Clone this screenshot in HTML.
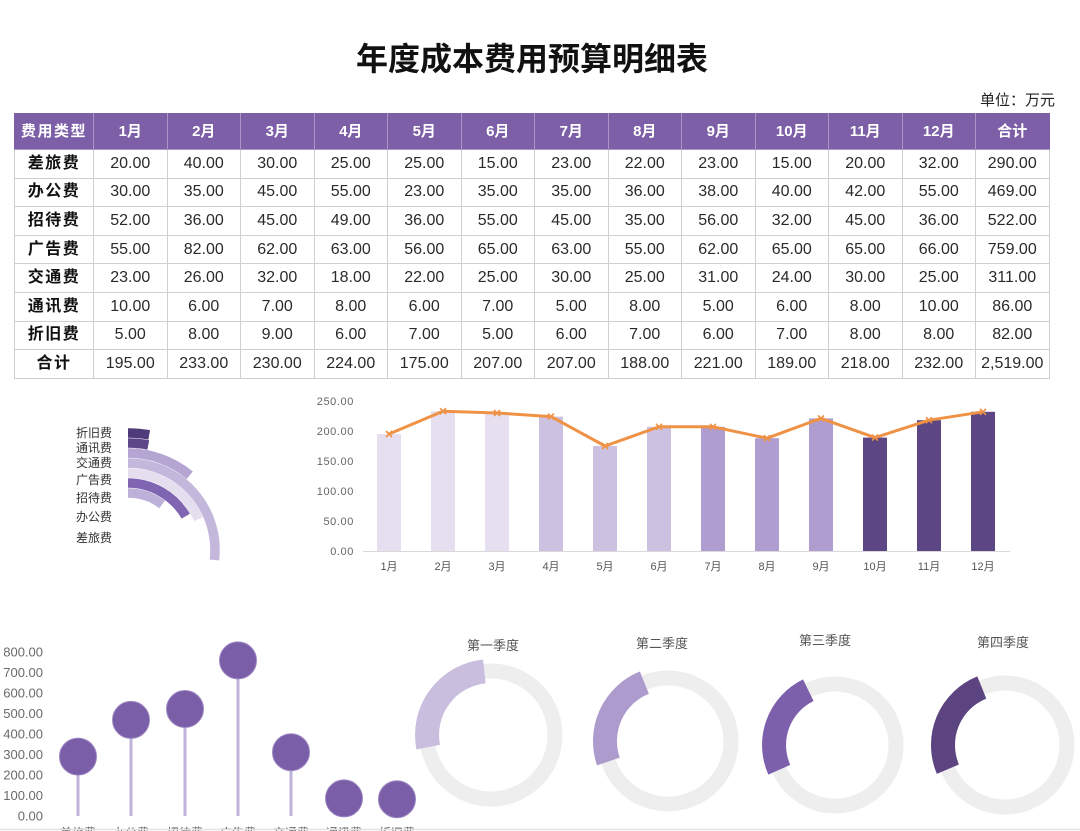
<!DOCTYPE html>
<html><head><meta charset="utf-8">
<style>
html,body{margin:0;padding:0;background:#fff;}
body{width:1080px;height:831px;position:relative;overflow:hidden;font-family:"Liberation Sans","Noto Sans CJK SC",sans-serif;}
#tbl{position:absolute;left:14px;top:113px;width:1035px;border-collapse:collapse;table-layout:fixed;}
#tbl td,#tbl th{padding:0;text-align:center;vertical-align:middle;border:1px solid #cfcfcf;font-size:16px;color:#2a2a2a;height:27.6px;line-height:16px;}
#tbl th{background:#7d5fa8;color:#fff;font-weight:bold;font-size:15px;height:35px;border:1px solid #a996c8;border-top-color:#7d5fa8;}
#tbl th:first-child{letter-spacing:1.5px;border-left-color:#7d5fa8;}
#tbl th:last-child{border-right-color:#7d5fa8;}
#tbl td:first-child{font-weight:bold;letter-spacing:1.5px;color:#111;}
svg{position:absolute;left:0;top:0;}
</style></head>
<body>
<svg width="1080" height="831" viewBox="0 0 1080 831" font-family="Liberation Sans, Noto Sans CJK SC, sans-serif">
<defs>
<linearGradient id="sh" x1="0" y1="0" x2="1" y2="0">
<stop offset="0" stop-color="#7a7a7a" stop-opacity="0.85"/>
<stop offset="1" stop-color="#ffffff" stop-opacity="0"/>
</linearGradient>
</defs>
<text x="532" y="70" text-anchor="middle" font-size="32" font-weight="bold" fill="#111">年度成本费用预算明细表</text>
<text x="1055" y="105" text-anchor="end" font-size="15" fill="#222">单位：万元</text>

<!-- radial bar chart -->
<g font-size="12" fill="#333" text-anchor="end">
<text x="112" y="437">折旧费</text>
<text x="112" y="452">通讯费</text>
<text x="112" y="467">交通费</text>
<text x="112" y="484">广告费</text>
<text x="112" y="502">招待费</text>
<text x="112" y="521">办公费</text>
<text x="112" y="542">差旅费</text>
</g>
<g fill="none" stroke-width="9.6">
<path d="M128 433 A117 117 0 0 1 149.2 434.9" stroke="#4f3b79"/>
<path d="M128 443 A107 107 0 0 1 148.3 444.95" stroke="#5d4789"/>
<path d="M128 453 A97 97 0 0 1 189.8 475.25" stroke="#b5a5d3"/>
<path d="M128 463 A87 87 0 0 1 214.4 560" stroke="#c4b7dc"/>
<path d="M128 473 A77 77 0 0 1 198.6 519.2" stroke="#e4deef"/>
<path d="M128 483 A67 67 0 0 1 185.8 516.2" stroke="#7f65b2"/>
<path d="M128 493 A57 57 0 0 1 162.2 504.4" stroke="#bdb1d9"/>
</g>

<!-- column chart -->
<g font-size="11" fill="#666" text-anchor="end" letter-spacing="0.6">
<text x="354" y="405">250.00</text>
<text x="354" y="435">200.00</text>
<text x="354" y="465">150.00</text>
<text x="354" y="495">100.00</text>
<text x="354" y="525">50.00</text>
<text x="354" y="555">0.00</text>
</g>
<line x1="363" y1="551.5" x2="1010" y2="551.5" stroke="#d9d9d9" stroke-width="1"/>
<g>
<rect x="389" y="436" width="6" height="115" fill="url(#sh)"/>
<rect x="377" y="434" width="24" height="117" fill="#e5dfef"/>
<rect x="443" y="413" width="6" height="138" fill="url(#sh)"/>
<rect x="431" y="411.2" width="24" height="139.8" fill="#e5dfef"/>
<rect x="497" y="415" width="6" height="136" fill="url(#sh)"/>
<rect x="485" y="413" width="24" height="138" fill="#e5dfef"/>
<rect x="551" y="418.6" width="6" height="132.4" fill="url(#sh)"/>
<rect x="539" y="416.6" width="24" height="134.4" fill="#cdc1e1"/>
<rect x="605" y="448" width="6" height="103" fill="url(#sh)"/>
<rect x="593" y="446" width="24" height="105" fill="#cdc1e1"/>
<rect x="659" y="428.8" width="6" height="122.2" fill="url(#sh)"/>
<rect x="647" y="426.8" width="24" height="124.2" fill="#cdc1e1"/>
<rect x="713" y="428.8" width="6" height="122.2" fill="url(#sh)"/>
<rect x="701" y="426.8" width="24" height="124.2" fill="#b09dcf"/>
<rect x="767" y="440.2" width="6" height="110.8" fill="url(#sh)"/>
<rect x="755" y="438.2" width="24" height="112.8" fill="#b09dcf"/>
<rect x="821" y="420.4" width="6" height="130.6" fill="url(#sh)"/>
<rect x="809" y="418.4" width="24" height="132.6" fill="#b09dcf"/>
<rect x="875" y="439.6" width="6" height="111.4" fill="url(#sh)"/>
<rect x="863" y="437.6" width="24" height="113.4" fill="#5c4683"/>
<rect x="929" y="422.2" width="6" height="128.8" fill="url(#sh)"/>
<rect x="917" y="420.2" width="24" height="130.8" fill="#5c4683"/>
<rect x="983" y="413.8" width="6" height="137.2" fill="url(#sh)"/>
<rect x="971" y="411.8" width="24" height="139.2" fill="#5c4683"/>
</g>
<polyline fill="none" stroke="#ef9246" stroke-width="3" stroke-linejoin="round" points="389,434 443,411.2 497,413 551,416.6 605,446 659,426.8 713,426.8 767,438.2 821,418.4 875,437.6 929,420.2 983,411.8"/>
<path fill="none" stroke="#ef9246" stroke-width="1.6" d="M386 431l6 6m0-6l-6 6 M440 408.2l6 6m0-6l-6 6 M494 410l6 6m0-6l-6 6 M548 413.6l6 6m0-6l-6 6 M602 443l6 6m0-6l-6 6 M656 423.8l6 6m0-6l-6 6 M710 423.8l6 6m0-6l-6 6 M764 435.2l6 6m0-6l-6 6 M818 415.4l6 6m0-6l-6 6 M872 434.6l6 6m0-6l-6 6 M926 417.2l6 6m0-6l-6 6 M980 408.8l6 6m0-6l-6 6"/>
<g font-size="11" fill="#555" text-anchor="middle">
<text x="389" y="570">1月</text><text x="443" y="570">2月</text><text x="497" y="570">3月</text>
<text x="551" y="570">4月</text><text x="605" y="570">5月</text><text x="659" y="570">6月</text>
<text x="713" y="570">7月</text><text x="767" y="570">8月</text><text x="821" y="570">9月</text>
<text x="875" y="570">10月</text><text x="929" y="570">11月</text><text x="983" y="570">12月</text>
</g>

<!-- lollipop chart -->
<g font-size="13" fill="#6a6a6a" text-anchor="end">
<text x="43" y="656.5">800.00</text>
<text x="43" y="677">700.00</text>
<text x="43" y="697.5">600.00</text>
<text x="43" y="718">500.00</text>
<text x="43" y="738.5">400.00</text>
<text x="43" y="759">300.00</text>
<text x="43" y="779.5">200.00</text>
<text x="43" y="800">100.00</text>
<text x="43" y="820.5">0.00</text>
</g>
<g stroke="#c0b3d9" stroke-width="3">
<line x1="78" y1="757" x2="78" y2="816"/>
<line x1="131" y1="720" x2="131" y2="816"/>
<line x1="185" y1="709" x2="185" y2="816"/>
<line x1="238" y1="660" x2="238" y2="816"/>
<line x1="291" y1="752" x2="291" y2="816"/>
<line x1="344" y1="798" x2="344" y2="816"/>
<line x1="397" y1="799" x2="397" y2="816"/>
</g>
<g fill="#7b5ea8" stroke="#9d88c3" stroke-width="1">
<circle cx="78" cy="756.6" r="18.5"/>
<circle cx="131" cy="719.9" r="18.5"/>
<circle cx="185" cy="709" r="18.5"/>
<circle cx="238" cy="660.4" r="18.5"/>
<circle cx="291" cy="752.2" r="18.5"/>
<circle cx="344" cy="798.4" r="18.5"/>
<circle cx="397" cy="799.2" r="18.5"/>
</g>
<g font-size="12" fill="#555" text-anchor="middle">
<text x="78" y="837">差旅费</text><text x="131" y="837">办公费</text><text x="185" y="837">招待费</text>
<text x="238" y="837">广告费</text><text x="291" y="837">交通费</text><text x="344" y="837">通讯费</text>
<text x="397" y="837">折旧费</text>
</g>

<!-- donuts -->
<g font-size="13" fill="#555" text-anchor="middle">
<text x="493" y="650">第一季度</text>
<text x="662" y="648">第二季度</text>
<text x="825" y="645">第三季度</text>
<text x="1003" y="647">第四季度</text>
</g>
<g fill="none" stroke="#eeeeee" stroke-width="15">
<circle cx="491" cy="735" r="64"/>
<circle cx="668" cy="741" r="63"/>
<circle cx="835" cy="745" r="61"/>
<circle cx="1005" cy="745" r="62"/>
</g>
<g fill="none" stroke-width="24">
<path d="M484.3 671.4 A64 64 0 0 0 428.2 747.2" stroke="#c9bedd"/>
<path d="M644.4 682.6 A63 63 0 0 0 608.4 761.5" stroke="#ae9bcd"/>
<path d="M808.3 690.2 A61 61 0 0 0 779.3 769.8" stroke="#7d60ac"/>
<path d="M981.8 687.5 A62 62 0 0 0 947.9 769.2" stroke="#5b4480"/>
</g>
<line x1="0" y1="829.5" x2="1080" y2="829.5" stroke="#e2e2e2" stroke-width="1.5"/>
</svg>

<table id="tbl">
<colgroup><col style="width:79px"><col span="13" style="width:73.5px"></colgroup>
<tr><th>费用类型</th><th>1月</th><th>2月</th><th>3月</th><th>4月</th><th>5月</th><th>6月</th><th>7月</th><th>8月</th><th>9月</th><th>10月</th><th>11月</th><th>12月</th><th>合计</th></tr>
<tr><td>差旅费</td><td>20.00</td><td>40.00</td><td>30.00</td><td>25.00</td><td>25.00</td><td>15.00</td><td>23.00</td><td>22.00</td><td>23.00</td><td>15.00</td><td>20.00</td><td>32.00</td><td>290.00</td></tr>
<tr><td>办公费</td><td>30.00</td><td>35.00</td><td>45.00</td><td>55.00</td><td>23.00</td><td>35.00</td><td>35.00</td><td>36.00</td><td>38.00</td><td>40.00</td><td>42.00</td><td>55.00</td><td>469.00</td></tr>
<tr><td>招待费</td><td>52.00</td><td>36.00</td><td>45.00</td><td>49.00</td><td>36.00</td><td>55.00</td><td>45.00</td><td>35.00</td><td>56.00</td><td>32.00</td><td>45.00</td><td>36.00</td><td>522.00</td></tr>
<tr><td>广告费</td><td>55.00</td><td>82.00</td><td>62.00</td><td>63.00</td><td>56.00</td><td>65.00</td><td>63.00</td><td>55.00</td><td>62.00</td><td>65.00</td><td>65.00</td><td>66.00</td><td>759.00</td></tr>
<tr><td>交通费</td><td>23.00</td><td>26.00</td><td>32.00</td><td>18.00</td><td>22.00</td><td>25.00</td><td>30.00</td><td>25.00</td><td>31.00</td><td>24.00</td><td>30.00</td><td>25.00</td><td>311.00</td></tr>
<tr><td>通讯费</td><td>10.00</td><td>6.00</td><td>7.00</td><td>8.00</td><td>6.00</td><td>7.00</td><td>5.00</td><td>8.00</td><td>5.00</td><td>6.00</td><td>8.00</td><td>10.00</td><td>86.00</td></tr>
<tr><td>折旧费</td><td>5.00</td><td>8.00</td><td>9.00</td><td>6.00</td><td>7.00</td><td>5.00</td><td>6.00</td><td>7.00</td><td>6.00</td><td>7.00</td><td>8.00</td><td>8.00</td><td>82.00</td></tr>
<tr><td>合计</td><td>195.00</td><td>233.00</td><td>230.00</td><td>224.00</td><td>175.00</td><td>207.00</td><td>207.00</td><td>188.00</td><td>221.00</td><td>189.00</td><td>218.00</td><td>232.00</td><td>2,519.00</td></tr>
</table>
</body></html>
